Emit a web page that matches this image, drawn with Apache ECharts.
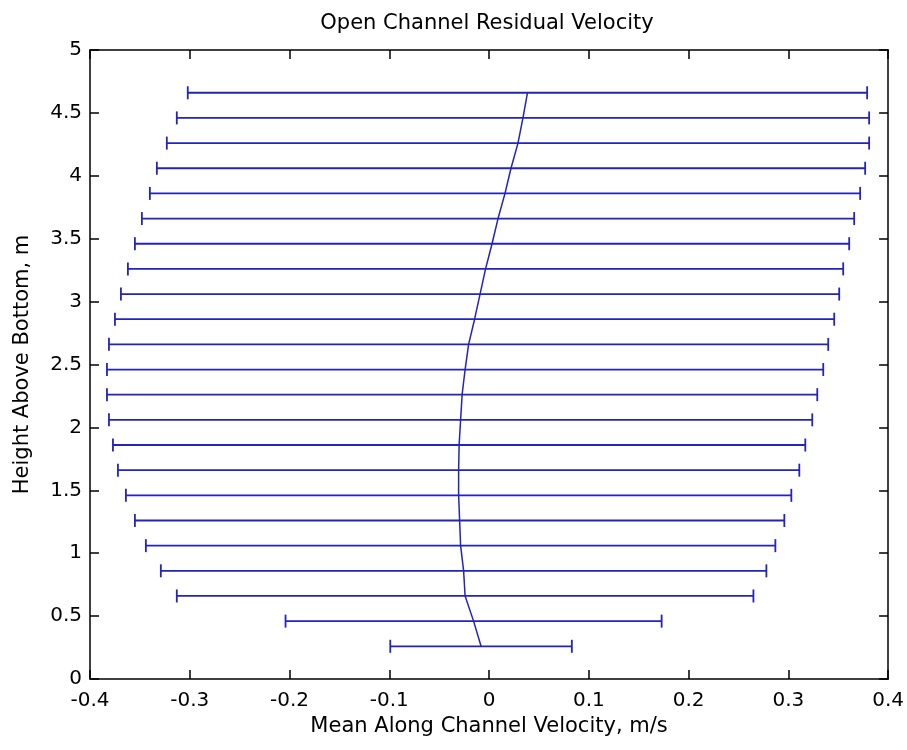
<!DOCTYPE html>
<html>
<head>
<meta charset="utf-8">
<script src="https://cdn.jsdelivr.net/npm/echarts@6/dist/echarts.min.js"></script>
<style>
html,body{margin:0;padding:0;background:#fff;}
#chart{width:907px;height:750px;}
</style>
</head>
<body>
<div id="chart"></div>
<script>
// Heights above bottom (m), bottom to top
const heights = [0.26, 0.46, 0.66, 0.86, 1.06, 1.26, 1.46, 1.66, 1.86, 2.06, 2.26, 2.46,
                 2.66, 2.86, 3.06, 3.26, 3.46, 3.66, 3.86, 4.06, 4.26, 4.46, 4.66];
// Mean along-channel velocity (m/s)
const means = [-0.008, -0.0155, -0.024, -0.0255, -0.0285, -0.0295, -0.0305, -0.0305, -0.030, -0.0285, -0.027, -0.024,
               -0.0205, -0.0145, -0.009, -0.0035, 0.003, 0.009, 0.016, 0.022, 0.029, 0.034, 0.0385];
// Half-width of error bars (m/s)
const errs = [0.091, 0.1885, 0.289, 0.3035, 0.3155, 0.3255, 0.3335, 0.3415, 0.347, 0.3525, 0.356, 0.359,
              0.3605, 0.3605, 0.360, 0.3585, 0.358, 0.357, 0.356, 0.355, 0.352, 0.347, 0.3405];
const xTickLabels = ['-0.4', '-0.3', '-0.2', '-0.1', '0', '0.1', '0.2', '0.3', '0.4'];
const yTickLabels = ['0', '0.5', '1', '1.5', '2', '2.5', '3', '3.5', '4', '4.5', '5'];

const BLUE = '#2323bd';
const FONT = 'DejaVu Sans';
const chart = echarts.init(document.getElementById('chart'), null, {renderer: 'canvas'});

const axisCommon = {
  axisLine: {show: true, onZero: false, lineStyle: {color: '#000', width: 1.5}},
  axisTick: {show: true, inside: true, length: 9, lineStyle: {color: '#000', width: 1.5}},
  splitLine: {show: false}
};

function xFmt(v) { const i = Math.round((v + 0.4) / 0.1); return xTickLabels[i] !== undefined ? xTickLabels[i] : ''; }
function yFmt(v) { const i = Math.round(v / 0.5); return yTickLabels[i] !== undefined ? yTickLabels[i] : ''; }

chart.setOption({
  animation: false,
  backgroundColor: '#fff',
  title: {
    text: 'Open Channel Residual Velocity',
    left: 487, textAlign: 'center', top: 13, padding: 0,
    textStyle: {fontFamily: FONT, fontSize: 21, fontWeight: 'normal', color: '#000'}
  },
  grid: {left: 90, right: 18, top: 50, bottom: 71, containLabel: false},
  xAxis: [
    Object.assign({}, axisCommon, {
      type: 'value', position: 'bottom', min: -0.4, max: 0.4, interval: 0.1,
      name: 'Mean Along Channel Velocity, m/s', nameLocation: 'middle', nameGap: 33,
      nameTextStyle: {fontFamily: FONT, fontSize: 21, color: '#000'},
      axisLabel: {show: true, margin: 12, fontFamily: FONT, fontSize: 20, color: '#000', formatter: xFmt}
    }),
    Object.assign({}, axisCommon, {
      type: 'value', position: 'top', min: -0.4, max: 0.4, interval: 0.1,
      axisLabel: {show: false}
    })
  ],
  yAxis: [
    Object.assign({}, axisCommon, {
      type: 'value', position: 'left', min: 0, max: 5, interval: 0.5,
      name: 'Height Above Bottom, m', nameLocation: 'middle', nameGap: 57, nameRotate: 90,
      nameTextStyle: {fontFamily: FONT, fontSize: 21, color: '#000'},
      axisLabel: {show: true, margin: 8, fontFamily: FONT, fontSize: 20, color: '#000', formatter: yFmt}
    }),
    Object.assign({}, axisCommon, {
      type: 'value', position: 'right', min: 0, max: 5, interval: 0.5,
      axisLabel: {show: false}
    })
  ],
  series: [
    {
      type: 'custom',
      xAxisIndex: 0, yAxisIndex: 0,
      encode: {x: 0, y: 1},
      data: heights.map((h, i) => [means[i], h, errs[i]]),
      renderItem: function (params, api) {
        const m = api.value(0), h = api.value(1), e = api.value(2);
        const p1 = api.coord([m - e, h]);
        const p2 = api.coord([m + e, h]);
        const cap = 6.5;
        const style = {stroke: BLUE, lineWidth: 1.8, fill: null};
        return {
          type: 'group',
          children: [
            {type: 'line', shape: {x1: p1[0], y1: p1[1], x2: p2[0], y2: p2[1]}, style: style},
            {type: 'line', shape: {x1: p1[0], y1: p1[1] - cap, x2: p1[0], y2: p1[1] + cap}, style: style},
            {type: 'line', shape: {x1: p2[0], y1: p2[1] - cap, x2: p2[0], y2: p2[1] + cap}, style: style}
          ]
        };
      }
    },
    {
      type: 'line',
      xAxisIndex: 0, yAxisIndex: 0,
      data: heights.map((h, i) => [means[i], h]),
      showSymbol: false, symbol: 'none',
      lineStyle: {color: BLUE, width: 1.5},
      z: 3
    }
  ]
});
</script>
</body>
</html>
